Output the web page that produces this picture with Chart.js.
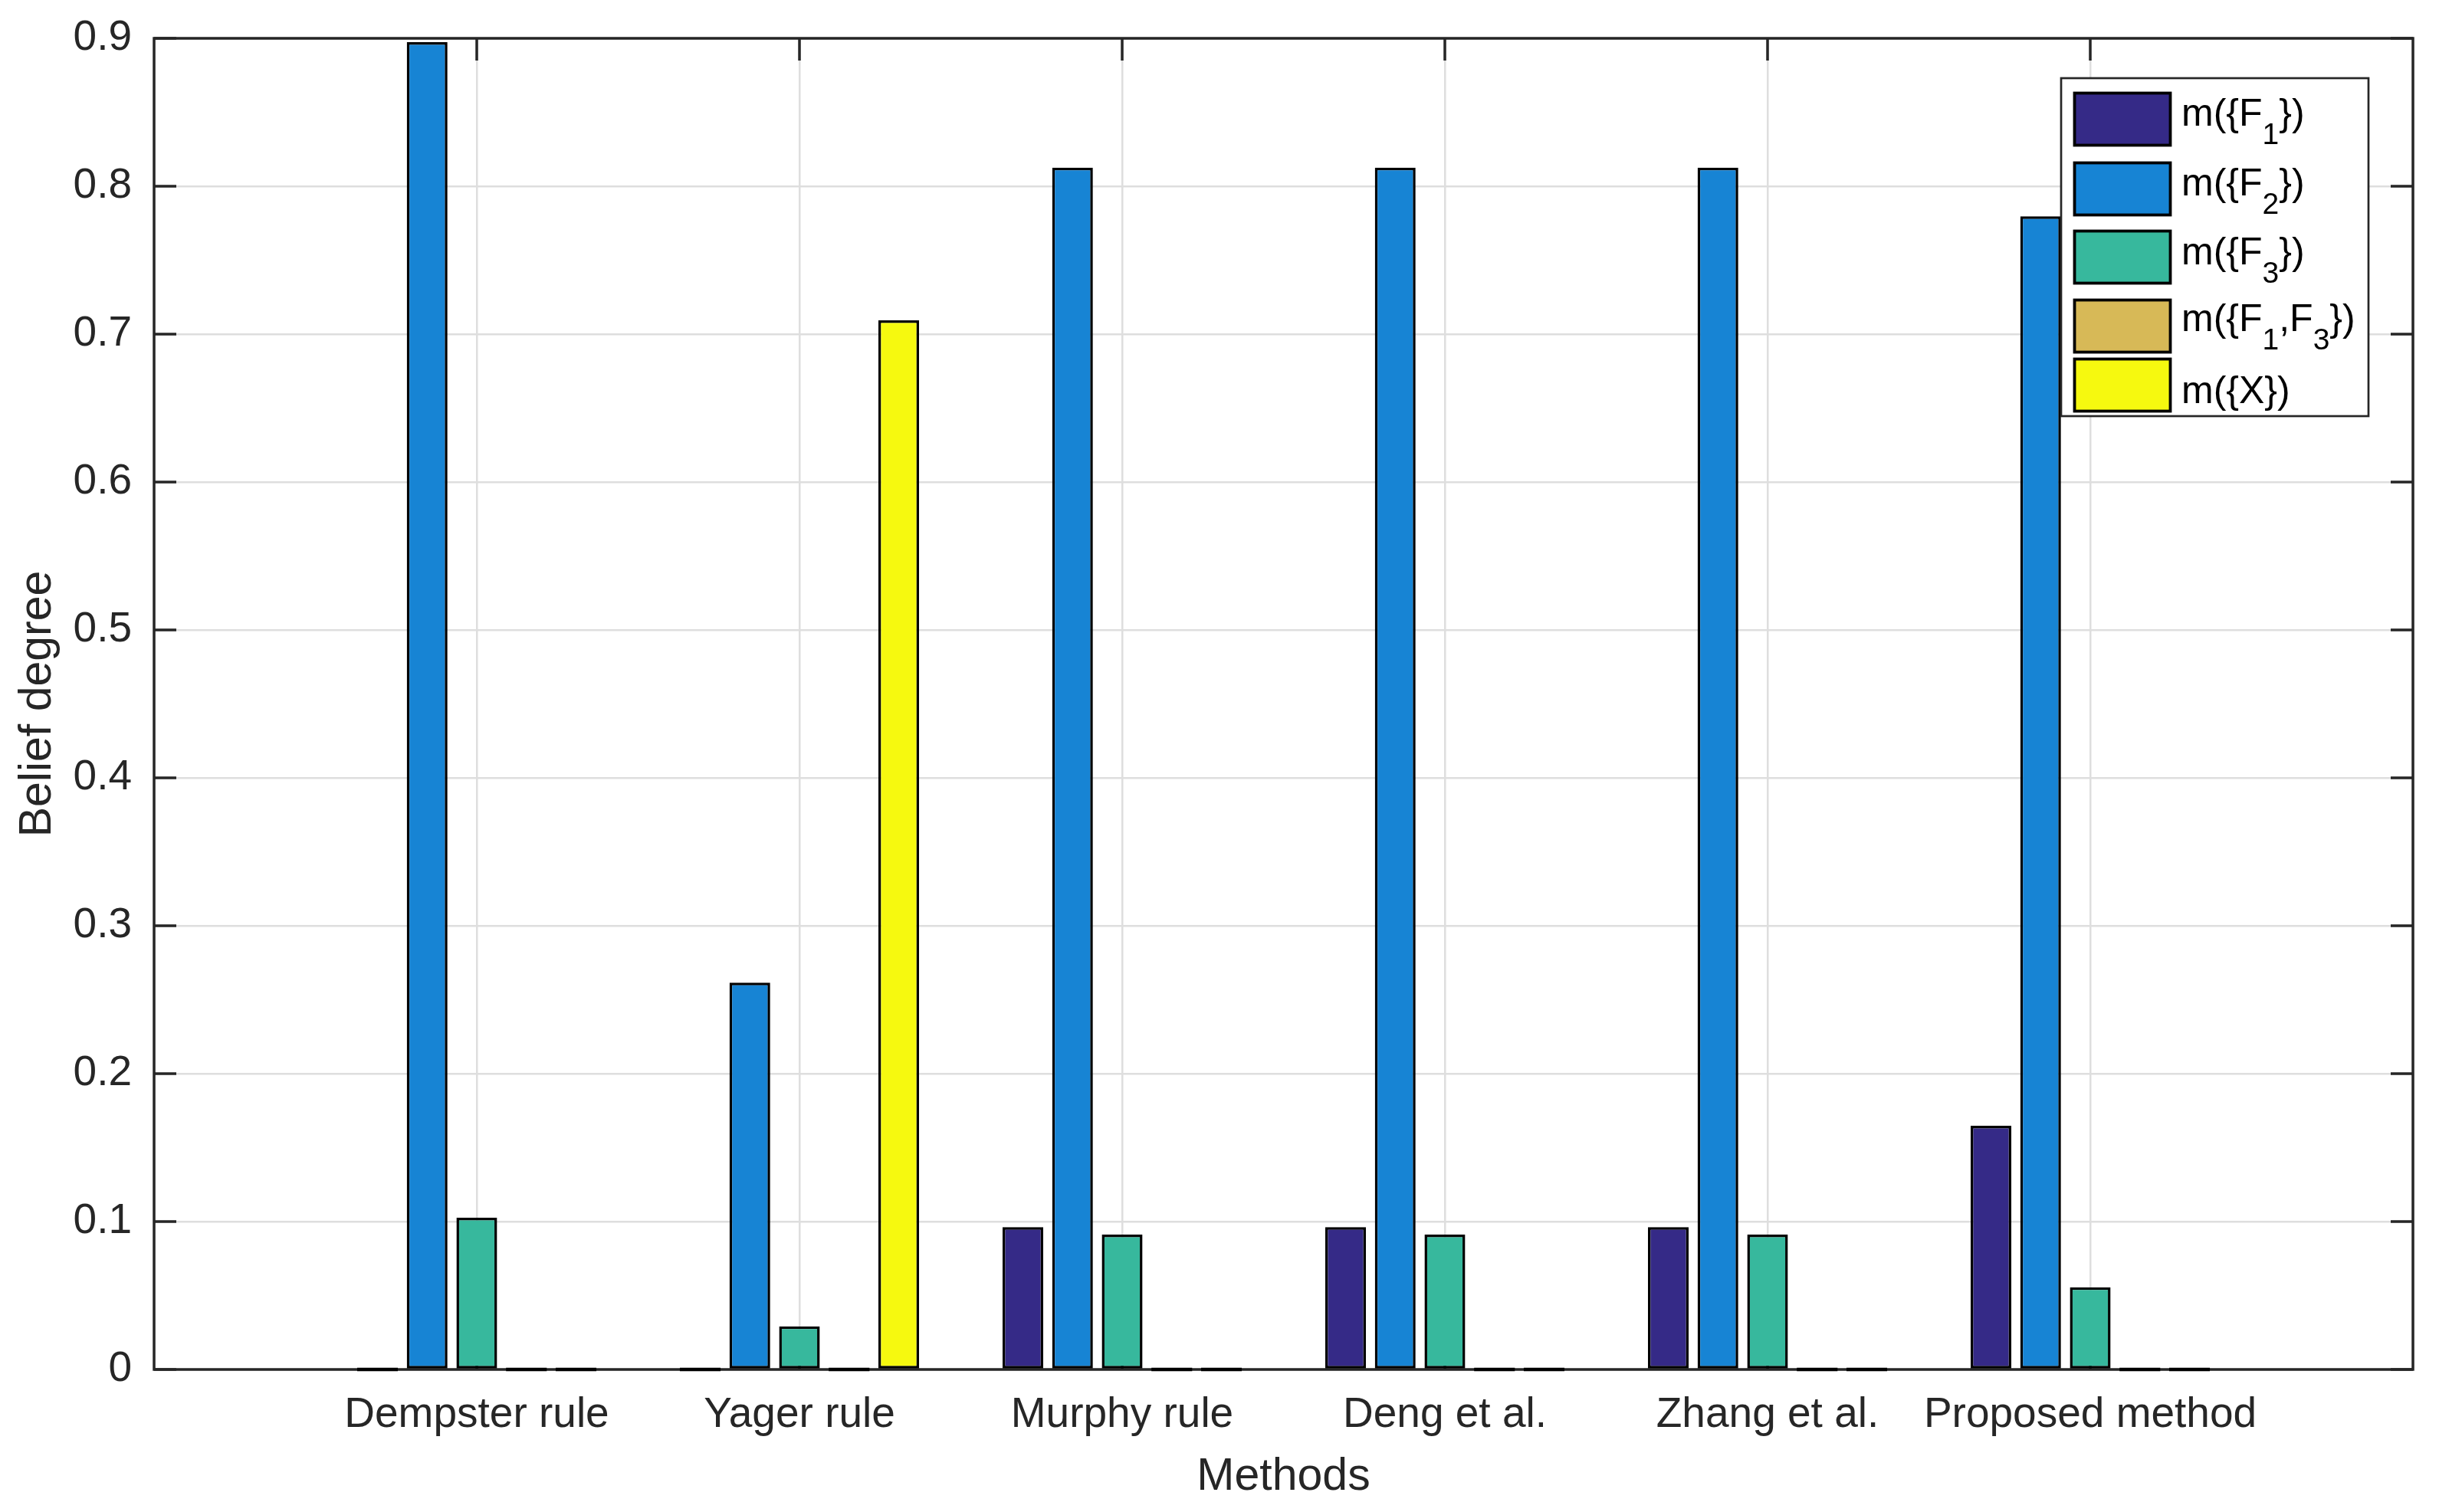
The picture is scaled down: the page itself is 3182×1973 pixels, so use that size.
<!DOCTYPE html>
<html>
<head>
<meta charset="utf-8">
<script src="https://cdn.jsdelivr.net/npm/chart.js@4.4.1/dist/chart.umd.min.js"></script>
<style>
  html, body { margin: 0; padding: 0; background: #fff; }
  canvas { display: block; }
</style>
</head>
<body>
<canvas id="chartCanvas" width="3182" height="1973"></canvas>
<script>
// categories (methods) on the x axis
const methods = ['Dempster rule', 'Yager rule', 'Murphy rule', 'Deng et al.', 'Zhang et al.', 'Proposed method'];

// belief degree of each focal element, one value per method
const mF1 = [0, 0, 0.0962, 0.0962, 0.0962, 0.1648];
const mF2 = [0.8974, 0.2615, 0.8126, 0.8126, 0.8126, 0.7796];
const mF3 = [0.1026, 0.0292, 0.0912, 0.0912, 0.0912, 0.0556];
const mF1F3 = [0, 0, 0, 0, 0, 0];
const mX = [0, 0.7093, 0, 0, 0, 0];

// legend labels ("_" marks a one-character subscript)
const seriesLabels = ['m({F_1})', 'm({F_2})', 'm({F_3})', 'm({F_1,F_3})', 'm({X})'];
const seriesColors = ['#352a87', '#1784d4', '#37b89d', '#d7b957', '#f6f90f'];

const yTicks = [0, 0.1, 0.2, 0.3, 0.4, 0.5, 0.6, 0.7, 0.8, 0.9];

const FONT = "'Liberation Sans', Arial, Helvetica, sans-serif";
const AXIS_COLOR = '#262626';
const TICK_LEN = 29;

function toPoints(values) {
    return values.map((v, i) => ({ x: i + 1, y: v }));
}

const allSeries = [mF1, mF2, mF3, mF1F3, mX];
const datasets = allSeries.map((values, i) => ({
    label: seriesLabels[i],
    data: toPoints(values),
    backgroundColor: seriesColors[i],
    borderColor: '#000000',
    borderWidth: 3.5,
    borderSkipped: false,
    categoryPercentage: 0.769,
    barPercentage: 0.82
}));

// box round the plot with inward ticks, like a matlab axes
const axesBox = {
    id: 'axesBox',
    beforeDatasetsDraw(chart) {
        const { ctx, chartArea } = chart;
        const x = chart.scales.x, y = chart.scales.y;
        ctx.save();
        ctx.strokeStyle = AXIS_COLOR;
        ctx.lineWidth = 3.5;
        ctx.beginPath();
        yTicks.forEach(t => {
            const py = y.getPixelForValue(t);
            ctx.moveTo(chartArea.left, py);
            ctx.lineTo(chartArea.left + TICK_LEN, py);
            ctx.moveTo(chartArea.right, py);
            ctx.lineTo(chartArea.right - TICK_LEN, py);
        });
        methods.forEach((m, i) => {
            const px = x.getPixelForValue(i + 1);
            ctx.moveTo(px, chartArea.top);
            ctx.lineTo(px, chartArea.top + TICK_LEN);
            ctx.moveTo(px, chartArea.bottom);
            ctx.lineTo(px, chartArea.bottom - TICK_LEN);
        });
        ctx.stroke();
        ctx.strokeRect(chartArea.left, chartArea.top,
            chartArea.right - chartArea.left, chartArea.bottom - chartArea.top);
        ctx.restore();
    },
    afterDatasetsDraw(chart) {
        // zero-height bars show as a thick black edge on the baseline
        const { ctx } = chart;
        ctx.save();
        ctx.strokeStyle = '#000000';
        ctx.lineWidth = 4.5;
        ctx.beginPath();
        chart.data.datasets.forEach((ds, i) => {
            chart.getDatasetMeta(i).data.forEach((bar, j) => {
                if (ds.data[j].y !== 0) return;
                const half = bar.width / 2;
                ctx.moveTo(bar.x - half, bar.base);
                ctx.lineTo(bar.x + half, bar.base);
            });
        });
        ctx.stroke();
        ctx.restore();
    }
};

function drawSubText(ctx, text, x, y, size, subSize, subDrop) {
    const parts = text.split(/_(.)/);
    parts.forEach((p, k) => {
        if (!p) return;
        const sub = k % 2 === 1;
        ctx.font = (sub ? subSize : size) + 'px ' + FONT;
        ctx.fillText(p, x, sub ? y + subDrop : y);
        x += ctx.measureText(p).width;
    });
}

// legend box inside the top right corner of the plot
const boxLegend = {
    id: 'boxLegend',
    afterDraw(chart) {
        const { ctx, chartArea } = chart;
        const right = chartArea.right - 58;
        const top = chartArea.top + 52;
        const left = right - 401;
        const bottom = top + 441;
        const rowTops = [18, 109, 198, 288, 365];
        const baselines = [62, 153, 243, 330, 424];
        ctx.save();
        ctx.fillStyle = '#ffffff';
        ctx.fillRect(left, top, right - left, bottom - top);
        ctx.strokeStyle = AXIS_COLOR;
        ctx.lineWidth = 2.7;
        ctx.strokeRect(left, top, right - left, bottom - top);
        chart.data.datasets.forEach((ds, i) => {
            const sy = top + rowTops[i];
            ctx.fillStyle = ds.backgroundColor;
            ctx.fillRect(left + 16, sy, 128, 71);
            ctx.strokeStyle = '#000000';
            ctx.lineWidth = 3.8;
            ctx.strokeRect(left + 17.5, sy + 1.5, 125, 68);
            ctx.fillStyle = '#000000';
            ctx.textBaseline = 'alphabetic';
            ctx.textAlign = 'left';
            drawSubText(ctx, ds.label, left + 157, top + baselines[i], 50, 39, 24);
        });
        ctx.restore();
    }
};

function noOverhang(s) {
    s.paddingTop = 0;
    s.paddingBottom = 0;
    s.paddingLeft = 0;
    s.paddingRight = 0;
}

const ctx = document.getElementById('chartCanvas').getContext('2d');
window.myChart = new Chart(ctx, {
    type: 'bar',
    data: { datasets: datasets },
    options: {
        responsive: false,
        animation: false,
        devicePixelRatio: 1,
        layout: { padding: { left: 0, top: 50, right: 34, bottom: 0 } },
        plugins: {
            legend: { display: false },
            tooltip: { enabled: false }
        },
        scales: {
            x: {
                type: 'linear',
                min: 0,
                max: 7,
                offset: false,
                afterFit: s => { s.height = 186; noOverhang(s); },
                afterBuildTicks: s => { s.ticks = [0, 1, 2, 3, 4, 5, 6, 7].map(v => ({ value: v })); },
                ticks: {
                    callback: v => methods[v - 1] || '',
                    font: { family: FONT, size: 55 },
                    color: AXIS_COLOR,
                    padding: 27,
                    maxRotation: 0,
                    autoSkip: false
                },
                grid: { color: '#dedede', lineWidth: 2.5, drawTicks: false, offset: false },
                border: { display: false },
                title: {
                    display: true,
                    text: 'Methods',
                    font: { family: FONT, size: 59, lineHeight: 1.2 },
                    color: AXIS_COLOR,
                    padding: { top: 0, bottom: 10 }
                }
            },
            y: {
                min: 0,
                max: 0.9,
                afterFit: s => { s.width = 201; noOverhang(s); },
                afterBuildTicks: s => { s.ticks = yTicks.map(v => ({ value: v })); },
                ticks: {
                    callback: v => String(Math.round(v * 10) / 10),
                    font: { family: FONT, size: 55 },
                    color: AXIS_COLOR,
                    padding: 29
                },
                grid: { color: '#dedede', lineWidth: 2.5, drawTicks: false },
                border: { display: false },
                title: {
                    display: true,
                    text: 'Belief degree',
                    font: { family: FONT, size: 59, lineHeight: 1.2 },
                    color: AXIS_COLOR,
                    padding: { top: 14, bottom: 0 }
                }
            }
        }
    },
    plugins: [axesBox, boxLegend]
});
</script>
</body>
</html>
